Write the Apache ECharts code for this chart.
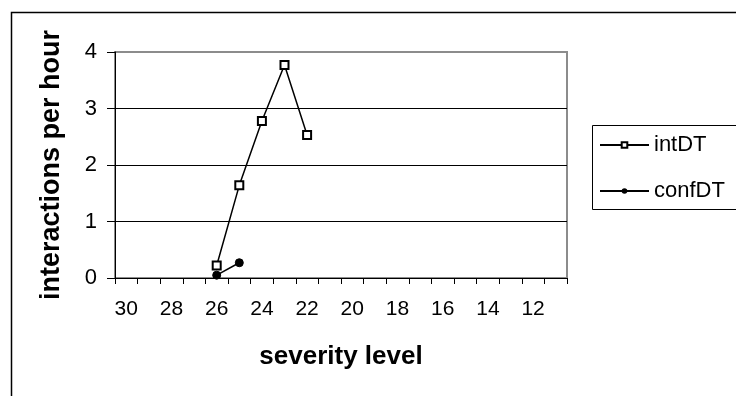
<!DOCTYPE html>
<html>
<head>
<meta charset="utf-8">
<script src="https://cdn.jsdelivr.net/npm/echarts@6/dist/echarts.min.js"></script>
<style>html,body{margin:0;padding:0;background:#fff}#c{width:736px;height:396px}</style>
</head>
<body>
<div id="c"></div>
<script>
const categories = ['30','29','28','27','26','25','24','23','22','21','20','19','18','17','16','15','14','13','12','11'];
const intDT  = [null,null,null,null,0.22,1.64,2.78,3.77,2.53,null,null,null,null,null,null,null,null,null,null,null];
const confDT = [null,null,null,null,0.05,0.27,null,null,null,null,null,null,null,null,null,null,null,null,null,null];
const yTicks = [0,1,2,3,4];

const chart = echarts.init(document.getElementById('c'), null, {renderer:'canvas'});
const F = 'Liberation Sans, Arial, sans-serif';
chart.setOption({
  animation:false,
  backgroundColor:'#fff',
  grid:{left:115, top:52, right:169, bottom:118, show:true, borderColor:'#8c8c8c', borderWidth:2, backgroundColor:'#fff'},
  legend:{
    left:599, top:134, orient:'vertical', padding:0, itemWidth:49, itemHeight:7, itemGap:24,
    textStyle:{fontFamily:F, fontSize:22, color:'#000', padding:[0,0,0,0]},
    data:['intDT','confDT']
  },
  xAxis:{
    type:'category', data:categories, boundaryGap:true,
    name:'severity level', nameLocation:'middle', nameGap:66,
    nameTextStyle:{fontFamily:F, fontSize:26, fontWeight:'bold', color:'#000'},
    axisLine:{lineStyle:{color:'#000', width:1}},
    axisTick:{show:true, interval:0, alignWithLabel:false, length:6, lineStyle:{color:'#000'}},
    axisLabel:{interval:1, fontFamily:F, fontSize:21, color:'#000', margin:21},
    splitLine:{show:false}
  },
  yAxis:{
    type:'value', min:yTicks[0], max:yTicks[yTicks.length-1], interval:1,
    name:'interactions per hour', nameLocation:'middle', nameGap:50,
    nameTextStyle:{fontFamily:F, fontSize:27, fontWeight:'bold', color:'#000'},
    axisLine:{show:true, lineStyle:{color:'#000', width:1}},
    axisTick:{show:true, length:8, lineStyle:{color:'#000'}},
    axisLabel:{fontFamily:F, fontSize:22, color:'#000', margin:18},
    splitLine:{show:true, lineStyle:{color:['#8c8c8c','#000','#000','#000','#8c8c8c'], width:1}}
  },
  series:[
    {name:'intDT', type:'line', data:intDT, symbol:'emptyRect', symbolSize:8,
     itemStyle:{color:'#000', borderColor:'#000', borderWidth:1.5},
     lineStyle:{color:'#000', width:1.5}, connectNulls:false},
    {name:'confDT', type:'line', data:confDT, symbol:'circle', symbolSize:8,
     itemStyle:{color:'#000', borderColor:'#000'},
     lineStyle:{color:'#000', width:1.5}, connectNulls:false}
  ],
  graphic:[
    {type:'rect', left:9, top:10, shape:{width:800, height:500}, style:{fill:null, stroke:'#000', lineWidth:1.5}, z:-10, silent:true},
    {type:'rect', left:590, top:123, shape:{width:200, height:84}, style:{fill:null, stroke:'#000', lineWidth:1}, z:-5, silent:true}
  ]
});
</script>
</body>
</html>
